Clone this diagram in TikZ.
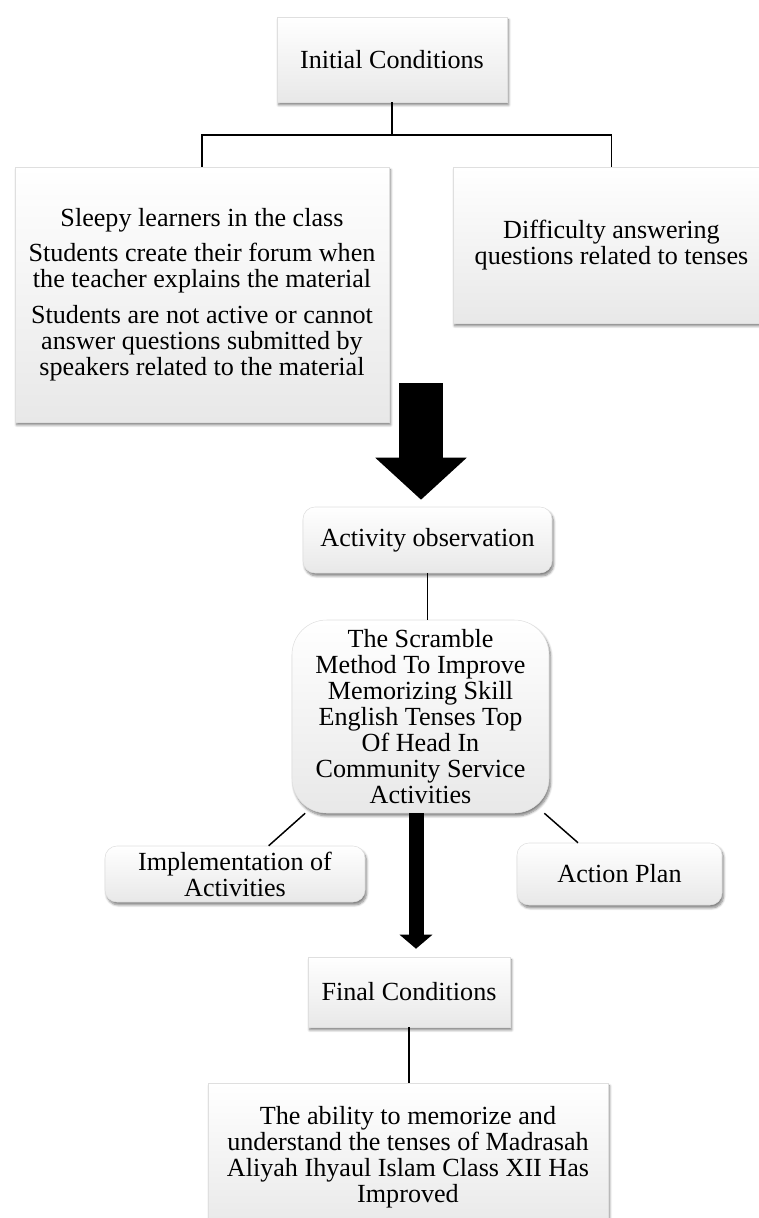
\documentclass[tikz,border=0pt]{standalone}
\usepackage{fontspec}
\setmainfont{Liberation Serif}
\usetikzlibrary{arrows.meta, shadows.blur}
\tikzset{box/.style = {draw=gray!25, line width=.4pt, top color=white, bottom color=gray!18,
    blur shadow={shadow xshift=1.2pt, shadow yshift=-2.2pt, shadow blur steps=6, shadow opacity=50},
    align=center, inner sep=2pt, font=\fontsize{19.6}{19.6}\selectfont},
  rbox/.style = {box, rounded corners=9pt},
  conn/.style = {line width=1.1pt, black},
  bigarrow/.style = {line width=33pt, -{Triangle[length=31.5pt, width=66.75pt]}},
  midarrow/.style = {line width=11.25pt, -{Triangle[length=10.5pt, width=24pt]}}}

\begin{document}
\begin{tikzpicture}[x=0.75pt, y=-0.75pt]
\useasboundingbox (0,0) rectangle (758,1218);

\node[box, minimum width=172.5pt, minimum height=63.75pt] (init) at (392,59.5) {Initial Conditions};
\node[box, minimum width=280.5pt, minimum height=191.25pt] (cond1) at (202,294.5)
  {Sleepy learners in the class\\[7pt]
   Students create their forum when\\ the teacher explains the material\\[7pt]
   Students are not active or cannot\\ answer questions submitted by\\ speakers related to the material};
\node[box, minimum width=237.75pt, minimum height=117pt] (cond2) at (611.5,245)
  {Difficulty answering\\ questions related to tenses};

\coordinate (split) at (392,135);
\draw[conn] (init.south) -- (split);
\draw[conn] (cond1.north) |- (split) -| (cond2.north);

\node[rbox, minimum width=186.75pt, minimum height=49.5pt] (obs) at (427.5,540) {Activity observation};
\coordinate (bigtop) at (421,383);
\draw[bigarrow, shorten >=5.25pt] (bigtop) -- (bigtop |- obs.north);

\node[box, rounded corners=26pt, minimum width=192.75pt, minimum height=144.75pt] (scramble) at (420.5,716.5)
  {The Scramble\\ Method To Improve\\ Memorizing Skill\\ English Tenses Top\\ Of Head In\\ Community Service\\ Activities};
\draw[conn] (obs.south) -- (obs.south |- scramble.north);

\node[rbox, minimum width=195pt, minimum height=42pt] (impl) at (235,874) {Implementation of\\ Activities};
\node[rbox, minimum width=153.75pt, minimum height=46.5pt] (plan) at (619.5,874) {Action Plan};
\draw[conn] (scramble.220) -- (impl.40);
\draw[conn] (scramble.-38) -- (plan.143);

\node[box, minimum width=151.5pt, minimum height=52.5pt] (final) at (409,992) {Final Conditions};
\coordinate (midtop) at (416,813);
\draw[midarrow, shorten >=6pt] (midtop) -- (midtop |- final.north);

\node[box, minimum width=300pt, minimum height=111pt] (result) at (408,1157)
  {The ability to memorize and\\ understand the tenses of Madrasah\\ Aliyah Ihyaul Islam Class XII Has\\ Improved};
\draw[conn] (final.south) -- (final.south |- result.north);

\end{tikzpicture}
\end{document}
